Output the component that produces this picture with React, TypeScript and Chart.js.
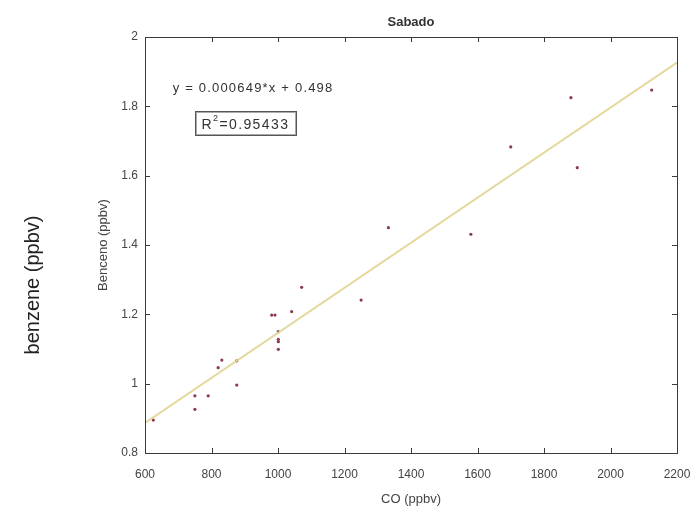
import React, { useEffect, useRef } from "react";
import { Chart, registerables } from "chart.js";

Chart.register(...registerables);

const coValues = [625, 750, 750, 790, 820, 831, 876, 876, 981, 991, 1001, 1001, 1001, 1001, 1041, 1071, 1250, 1332, 1580, 1700, 1881, 1900, 2124];
const benzeneValues = [0.895, 0.965, 0.926, 0.965, 1.046, 1.068, 1.066, 0.996, 1.198, 1.198, 1.15, 1.128, 1.121, 1.099, 1.208, 1.278, 1.241, 1.45, 1.431, 1.683, 1.825, 1.623, 1.847];
const fitX = [600, 2200];
const fitY = [0.887, 1.926];
const xTicks = [600, 800, 1000, 1200, 1400, 1600, 1800, 2000, 2200];
const yTicks = [0.8, 1, 1.2, 1.4, 1.6, 1.8, 2];
const titleText = "Sabado";
const xLabel = "CO (ppbv)";
const yLabel = "Benceno (ppbv)";
const outerLabel = "benzene (ppbv)";
const eqText = "y = 0.000649*x + 0.498";
const r2Value = "=0.95433";

const FONT = "'Liberation Sans', Arial, sans-serif";

const decor = {
  id: "decor",
  afterDraw(chart: any) {
    const { ctx, chartArea: a, scales } = chart;
    const xs = scales.x;
    const ys = scales.y;
    ctx.save();
    ctx.strokeStyle = "#3a3a3a";
    ctx.lineWidth = 1;
    ctx.strokeRect(Math.round(a.left) + 0.5, Math.round(a.top) + 0.5, Math.round(a.right - a.left), Math.round(a.bottom - a.top));
    ctx.beginPath();
    xTicks.forEach((v) => {
      const px = Math.round(xs.getPixelForValue(v)) + 0.5;
      ctx.moveTo(px, a.bottom);
      ctx.lineTo(px, a.bottom - 5);
      ctx.moveTo(px, a.top);
      ctx.lineTo(px, a.top + 5);
    });
    yTicks.forEach((v) => {
      const py = Math.round(ys.getPixelForValue(v)) + 0.5;
      ctx.moveTo(a.left, py);
      ctx.lineTo(a.left + 5, py);
      ctx.moveTo(a.right, py);
      ctx.lineTo(a.right - 5, py);
    });
    ctx.stroke();

    ctx.fillStyle = "#333";
    ctx.font = `bold 13px ${FONT}`;
    ctx.textAlign = "center";
    ctx.textBaseline = "middle";
    ctx.fillText(titleText, (a.left + a.right) / 2, 22);

    ctx.font = `13px ${FONT}`;
    ctx.fillStyle = "#444";
    ctx.fillText(xLabel, (a.left + a.right) / 2, 499);

    ctx.save();
    ctx.translate(103, (a.top + a.bottom) / 2);
    ctx.rotate(-Math.PI / 2);
    ctx.font = `13px ${FONT}`;
    ctx.fillText(yLabel, 0, 0);
    ctx.restore();

    ctx.save();
    ctx.translate(33, 285);
    ctx.rotate(-Math.PI / 2);
    ctx.font = `20px ${FONT}`;
    ctx.fillStyle = "#222";
    ctx.fillText(outerLabel, 0, 0);
    ctx.restore();

    ctx.font = `13px ${FONT}`;
    ctx.fillStyle = "#333";
    (ctx as any).letterSpacing = "1.2px";
    const ex = xs.getPixelForValue(925);
    const ey = ys.getPixelForValue(1.853);
    ctx.fillText(eqText, ex, ey);

    const bx = xs.getPixelForValue(902);
    const by = ys.getPixelForValue(1.752);
    (ctx as any).letterSpacing = "1.4px";
    ctx.font = `14px ${FONT}`;
    const wR = ctx.measureText("R").width;
    ctx.font = `9px ${FONT}`;
    const w2 = ctx.measureText("2").width;
    ctx.font = `14px ${FONT}`;
    const wV = ctx.measureText(r2Value).width;
    const total = wR + w2 + wV;
    let sx = bx - total / 2;
    ctx.textAlign = "left";
    ctx.fillText("R", sx, by + 2);
    sx += wR;
    ctx.font = `9px ${FONT}`;
    ctx.fillText("2", sx, by - 4);
    sx += w2;
    ctx.font = `14px ${FONT}`;
    ctx.fillText(r2Value, sx, by + 2);
    (ctx as any).letterSpacing = "0px";
    ctx.strokeStyle = "#555";
    ctx.lineWidth = 1;
    ctx.strokeRect(Math.round(bx - 50) + 0.5, Math.round(by - 12) + 0.5, 101, 24);
    ctx.strokeStyle = "#aaa";
    ctx.strokeRect(Math.round(bx - 49) + 0.5, Math.round(by - 11) + 0.5, 99, 22);
    ctx.restore();
  },
};

export default function App() {
  const ref = useRef<HTMLCanvasElement | null>(null);
  useEffect(() => {
    document.body.style.margin = "0";
    const canvas = ref.current;
    if (!canvas) return;
    const chart = new Chart(canvas, {
      type: "scatter",
      data: {
        datasets: [
          {
            type: "line",
            label: "fit",
            data: fitX.map((x, i) => ({ x, y: fitY[i] })),
            borderColor: "rgba(226, 214, 150, 0.95)",
            borderWidth: 2,
            pointRadius: 0,
            fill: false,
          },
          {
            label: "data",
            data: coValues.map((x, i) => ({ x, y: benzeneValues[i] })),
            backgroundColor: "#8a3a4c",
            borderColor: "#8a3a4c",
            pointRadius: 1.6,
            borderWidth: 0,
          },
        ],
      },
      options: {
        responsive: false,
        animation: false,
        layout: { padding: { left: 0, right: 17, top: 37, bottom: 0 } },
        plugins: { legend: { display: false }, tooltip: { enabled: false }, title: { display: false } },
        scales: {
          x: {
            type: "linear",
            min: 600,
            max: 2200,
            grid: { display: false, drawTicks: false },
            border: { display: false },
            afterBuildTicks: (s: any) => {
              s.ticks = xTicks.map((v) => ({ value: v }));
            },
            afterFit: (s: any) => {
              s.height = 56;
              s.paddingLeft = 0;
              s.paddingRight = 0;
            },
            ticks: {
              padding: 14,
              color: "#444",
              font: { family: FONT, size: 12 },
              maxRotation: 0,
              callback: (v: any) => String(v),
            },
          },
          y: {
            type: "linear",
            min: 0.8,
            max: 2,
            grid: { display: false, drawTicks: false },
            border: { display: false },
            afterBuildTicks: (s: any) => {
              s.ticks = yTicks.map((v) => ({ value: v }));
            },
            afterFit: (s: any) => {
              s.width = 145;
              s.paddingTop = 0;
              s.paddingBottom = 0;
            },
            ticks: {
              padding: 7,
              color: "#444",
              font: { family: FONT, size: 12 },
              callback: (v: any) => String(Math.round(v * 10) / 10),
            },
          },
        },
      },
      plugins: [decor],
    });
    return () => chart.destroy();
  }, []);
  return (
    <div style={{ position: "absolute", left: 0, top: 0, width: 694, height: 509, background: "#fff" }}>
      <canvas ref={ref} width={694} height={509} style={{ width: 694, height: 509 }} />
    </div>
  );
}
